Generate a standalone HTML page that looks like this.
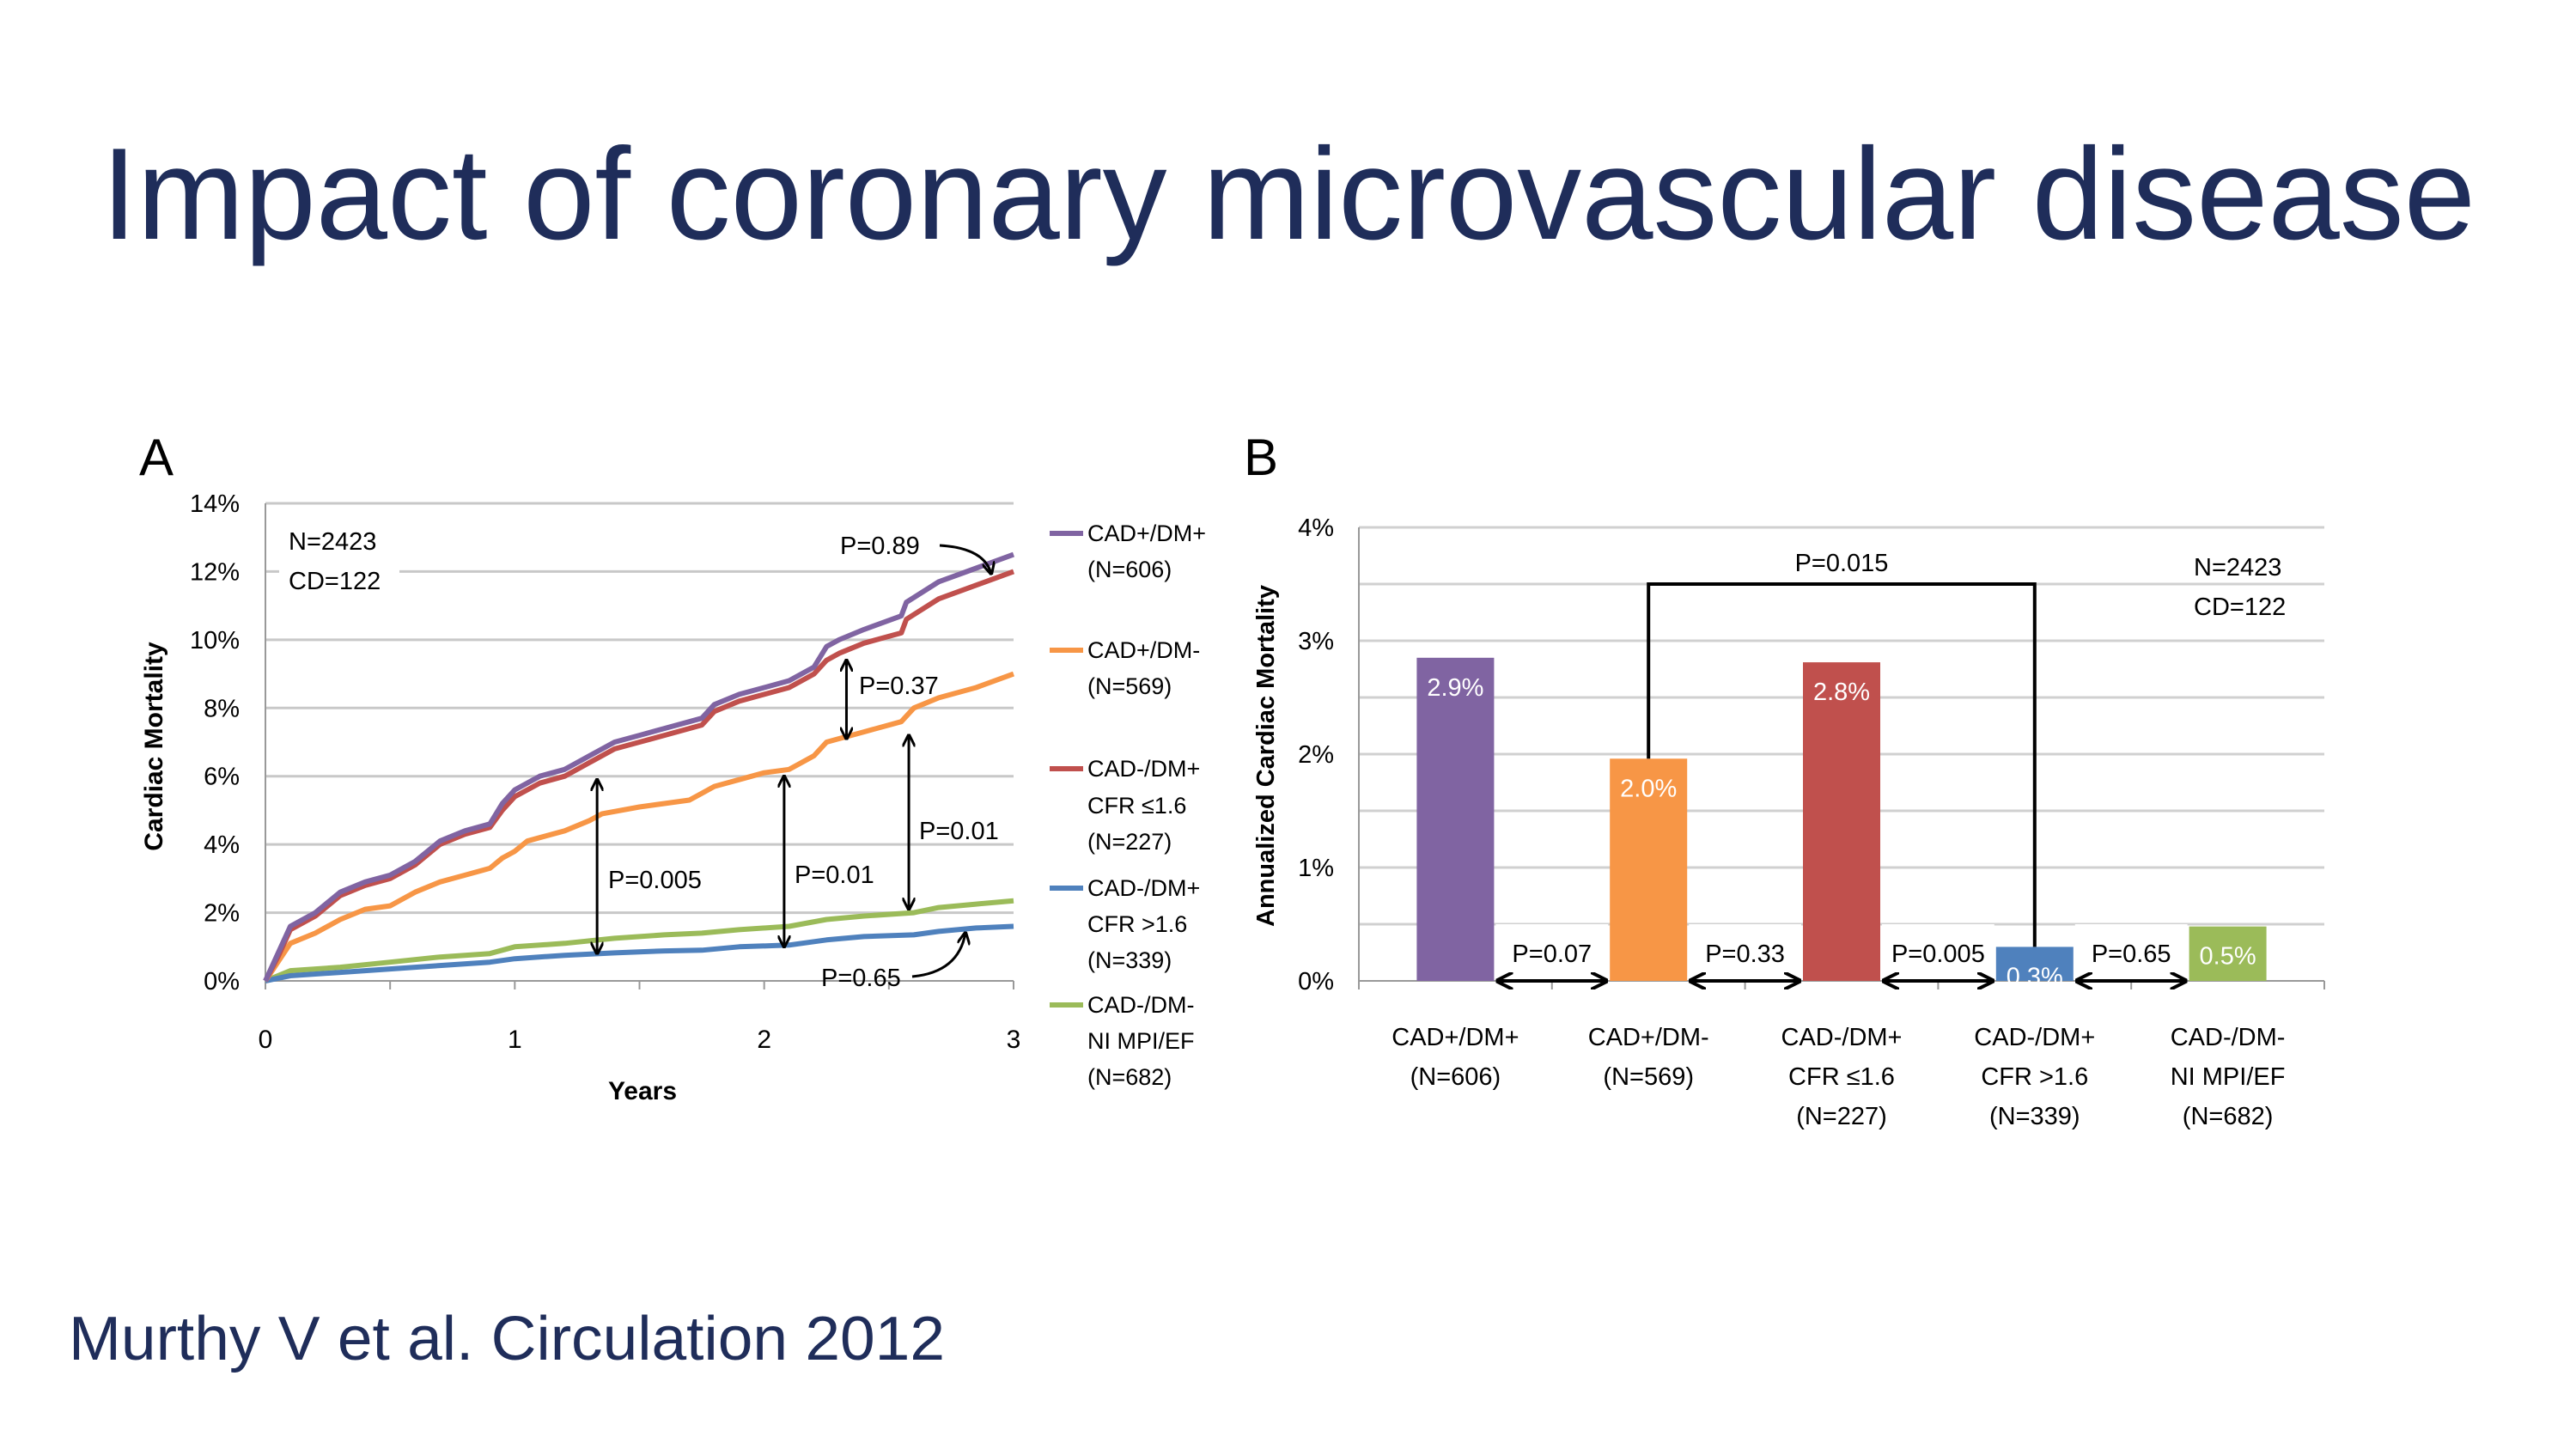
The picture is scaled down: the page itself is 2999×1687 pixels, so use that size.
<!DOCTYPE html>
<html><head><meta charset="utf-8"><style>
html,body{margin:0;padding:0;background:#fff;}
svg{display:block;font-family:"Liberation Sans",sans-serif;}
</style></head><body>
<svg id="s" width="2999" height="1687" viewBox="0 0 2999 1687" xmlns="http://www.w3.org/2000/svg">
<defs>
<marker id="ah" viewBox="0 0 10 10" refX="9" refY="5" markerWidth="5" markerHeight="5" orient="auto-start-reverse"><path d="M0,0 L10,5 L0,10" fill="none" stroke="#000" stroke-width="2"/></marker>
</defs>
<text x="118" y="278" font-size="152" fill="#1f2d5a" textLength="2764" lengthAdjust="spacingAndGlyphs">Impact of coronary microvascular disease</text>
<text x="80" y="1583" font-size="72" fill="#1f2d5a" textLength="1020" lengthAdjust="spacingAndGlyphs">Murthy V et al. Circulation 2012</text>
<text x="162" y="553" font-size="60" fill="#000">A</text>
<text x="1448" y="553" font-size="60" fill="#000">B</text>
<g id="ga"></g>
<g id="gb"></g>
</svg>
<script>
const NS="http://www.w3.org/2000/svg";
function mk(p,tag,at,txt){const e=document.createElementNS(NS,tag);for(const k in at)e.setAttribute(k,at[k]);if(txt!=null)e.textContent=txt;p.appendChild(e);return e;}

// ---- Panel A data ----
const yearsTicks=[0,1,2,3];
const pctTicksA=[0,2,4,6,8,10,12,14];
const seriesNames=["CAD+/DM+","CAD+/DM-","CAD-/DM+ CFR ≤1.6","CAD-/DM+ CFR >1.6","CAD-/DM- NI MPI/EF"];
const tPurple=[0,0.05,0.1,0.2,0.3,0.4,0.5,0.6,0.7,0.8,0.9,0.95,1.0,1.1,1.2,1.3,1.4,1.5,1.6,1.7,1.75,1.8,1.9,2.0,2.1,2.2,2.25,2.3,2.4,2.55,2.57,2.7,2.85,3];
const vPurple=[0,0.8,1.6,2.0,2.6,2.9,3.1,3.5,4.1,4.4,4.6,5.2,5.6,6.0,6.2,6.6,7.0,7.2,7.4,7.6,7.7,8.1,8.4,8.6,8.8,9.2,9.8,10.0,10.3,10.7,11.1,11.7,12.1,12.5];
const tRed=tPurple;
const vRed=[0,0.7,1.5,1.9,2.5,2.8,3.0,3.4,4.0,4.3,4.5,5.0,5.4,5.8,6.0,6.4,6.8,7.0,7.2,7.4,7.5,7.9,8.2,8.4,8.6,9.0,9.4,9.6,9.9,10.2,10.6,11.2,11.6,12.0];
const tOrange=[0,0.1,0.2,0.3,0.4,0.5,0.6,0.7,0.8,0.9,0.95,1.0,1.05,1.1,1.2,1.3,1.35,1.5,1.6,1.7,1.75,1.8,1.9,2.0,2.1,2.2,2.25,2.3,2.4,2.55,2.6,2.7,2.85,3];
const vOrange=[0,1.1,1.4,1.8,2.1,2.2,2.6,2.9,3.1,3.3,3.6,3.8,4.1,4.2,4.4,4.7,4.9,5.1,5.2,5.3,5.5,5.7,5.9,6.1,6.2,6.6,7.0,7.1,7.3,7.6,8.0,8.3,8.6,9.0];
const tGreen=[0,0.1,0.3,0.5,0.7,0.9,1.0,1.2,1.4,1.6,1.75,1.9,2.1,2.25,2.4,2.6,2.7,2.85,3];
const vGreen=[0,0.3,0.4,0.55,0.7,0.8,1.0,1.1,1.25,1.35,1.4,1.5,1.6,1.8,1.9,2.0,2.15,2.25,2.35];
const tBlue=tGreen;
const vBlue=[0,0.15,0.25,0.35,0.45,0.55,0.65,0.75,0.82,0.88,0.9,1.0,1.05,1.2,1.3,1.35,1.45,1.55,1.6];
const colors=["#8064a2","#f79646","#c0504d","#4f81bd","#9bbb59"];

const A=document.getElementById('ga');
const ax0=309,ax1=1180,ay0=1142,ay1=586;
const xA=t=>ax0+(ax1-ax0)*t/3;
const yA=v=>ay0-(ay0-ay1)*v/14;
pctTicksA.forEach(v=>{
  if(v>0){const g=mk(A,'line',{x1:ax0,x2:ax1,y1:yA(v),y2:yA(v),stroke:'#c8c8c8','stroke-width':3});
  }
  const t=mk(A,'text',{x:279,y:yA(v)+10,'font-size':29,'text-anchor':'end'},v+'%');
  
});
mk(A,'line',{x1:ax0,x2:ax0,y1:ay1,y2:ay0,stroke:'#999','stroke-width':2});
mk(A,'line',{x1:ax0,x2:ax1,y1:ay0,y2:ay0,stroke:'#999','stroke-width':2});
for(let i=0;i<=6;i++){mk(A,'line',{x1:xA(i/2),x2:xA(i/2),y1:ay0,y2:ay0+10,stroke:'#999','stroke-width':2});}
yearsTicks.forEach(v=>{const t=mk(A,'text',{x:xA(v),y:1220,'font-size':30,'text-anchor':'middle'},v);
  });
const xt=mk(A,'text',{x:748,y:1280,'font-size':30,'font-weight':'bold','text-anchor':'middle'},'Years');

const yt=mk(A,'text',{x:0,y:0,'font-size':30,'font-weight':'bold','text-anchor':'middle',transform:'translate(189,869) rotate(-90)'},'Cardiac Mortality');

mk(A,'rect',{x:325,y:605,width:140,height:95,fill:'#fff'});
const n1=mk(A,'text',{x:336,y:640,'font-size':29},'N=2423');
const n2=mk(A,'text',{x:336,y:686,'font-size':29},'CD=122');
const ser=[[tGreen,vGreen,4],[tBlue,vBlue,3],[tOrange,vOrange,1],[tRed,vRed,2],[tPurple,vPurple,0]];
ser.forEach(([t,v,ci])=>{
  const d=t.map((tt,i)=>(i?'L':'M')+xA(tt).toFixed(1)+','+yA(v[i]).toFixed(1)).join(' ');
  const p=mk(A,'path',{d:d,fill:'none',stroke:colors[ci],'stroke-width':6,'stroke-linejoin':'round'});
  
  
});
const arrowsX=[1.33,2.08,2.58,2.33];
const arrowsLo=[0.8,1.0,2.1,7.1];
const arrowsHi=[5.9,6.0,7.2,9.4];
arrowsX.forEach((x,i)=>{const l=mk(A,'line',{x1:xA(x),x2:xA(x),y1:yA(arrowsLo[i]),y2:yA(arrowsHi[i]),stroke:'#000','stroke-width':3,'marker-start':'url(#ah)','marker-end':'url(#ah)'});
  });
[['P=0.005',708,1034],['P=0.01',925,1028],['P=0.01',1070,977],['P=0.37',1000,808],['P=0.89',978,645],['P=0.65',956,1148]].forEach(([s,x,y])=>{
  const t=mk(A,'text',{x:x,y:y,'font-size':29},s);});
mk(A,'path',{d:'M1094,635 Q1146,638 1154,668',fill:'none',stroke:'#000','stroke-width':3,'marker-end':'url(#ah)'});
mk(A,'path',{d:'M1062,1137 Q1116,1132 1124,1086',fill:'none',stroke:'#000','stroke-width':3,'marker-end':'url(#ah)'});
const legY=[[621,663],[757,799],[895,938,980],[1034,1076,1118],[1170,1212,1254]];
const legTxt=[["CAD+/DM+","(N=606)"],["CAD+/DM-","(N=569)"],["CAD-/DM+","CFR ≤1.6","(N=227)"],["CAD-/DM+","CFR >1.6","(N=339)"],["CAD-/DM-","NI MPI/EF","(N=682)"]];
legTxt.forEach((lines,i)=>{
  const l=mk(A,'line',{x1:1222,x2:1261,y1:legY[i][0],y2:legY[i][0],stroke:colors[i],'stroke-width':6});
  
  lines.forEach((s,j)=>{const t=mk(A,'text',{x:1266,y:legY[i][j]+9,'font-size':27},s);
    });
});

// ---- Panel B data ----
const categories=[["CAD+/DM+","(N=606)"],["CAD+/DM-","(N=569)"],["CAD-/DM+","CFR ≤1.6","(N=227)"],["CAD-/DM+","CFR >1.6","(N=339)"],["CAD-/DM-","NI MPI/EF","(N=682)"]];
const barValues=[2.85,1.96,2.81,0.3,0.48];
const barLabels=["2.9%","2.0%","2.8%","0.3%","0.5%"];
const pctTicksB=[0,1,2,3,4];
const pairP=["P=0.07","P=0.33","P=0.005","P=0.65"];
const B=document.getElementById('gb');
const bx0=1582,bx1=2706,by0=1142,by1=614;
const slot=(bx1-bx0)/5;
const xB=i=>bx0+slot*(i+0.5);
const yB=v=>by0-(by0-by1)*v/4;
for(let k=1;k<=8;k++){const g=mk(B,'line',{x1:bx0,x2:bx1,y1:yB(k/2),y2:yB(k/2),stroke:'#d0d0d0','stroke-width':3});
  }
pctTicksB.forEach(v=>{const t=mk(B,'text',{x:1553,y:yB(v)+10,'font-size':29,'text-anchor':'end'},v+'%');
  });
mk(B,'line',{x1:bx0,x2:bx0,y1:by1,y2:by0,stroke:'#999','stroke-width':2});
mk(B,'line',{x1:bx0,x2:bx1,y1:by0,y2:by0,stroke:'#999','stroke-width':2});
for(let i=0;i<=5;i++)mk(B,'line',{x1:bx0+slot*i,x2:bx0+slot*i,y1:by0,y2:by0+10,stroke:'#999','stroke-width':2});
const ybt=mk(B,'text',{x:0,y:0,'font-size':29,'font-weight':'bold','text-anchor':'middle',transform:'translate(1483,880) rotate(-90)'},'Annualized Cardiac Mortality');

const bw=90;
barValues.forEach((v,i)=>{
  const r=mk(B,'rect',{x:xB(i)-bw/2,y:yB(v),width:bw,height:by0-yB(v),fill:colors[i]});
  
  const t=mk(B,'text',{x:xB(i),y:yB(v)+44,'font-size':29,fill:'#fff','text-anchor':'middle'},barLabels[i]);
  
  categories[i].forEach((s,j)=>{const c=mk(B,'text',{x:xB(i),y:1217+46*j,'font-size':29,'text-anchor':'middle'},s);
    });
});
pairP.forEach((s,i)=>{
  const xl=xB(i)+bw/2, xr=xB(i+1)-bw/2;
  mk(B,'rect',{x:xl+2,y:yB(0.5),width:xr-xl-4,height:by0-yB(0.5)-6,fill:'#fff'});
  const t=mk(B,'text',{x:(xl+xr)/2,y:1120,'font-size':29,'text-anchor':'middle'},s);
  
  const a=mk(B,'line',{x1:xl+4,x2:xr-4,y1:by0,y2:by0,stroke:'#000','stroke-width':4,'marker-start':'url(#ah)','marker-end':'url(#ah)'});
  
});
const br=mk(B,'path',{d:`M${xB(1)},${yB(barValues[1])} V${yB(3.5)} H${xB(3)} V${yB(barValues[3])}`,fill:'none',stroke:'#000','stroke-width':4});

const pb=mk(B,'text',{x:(xB(1)+xB(3))/2,y:665,'font-size':29,'text-anchor':'middle'},'P=0.015');

const nb1=mk(B,'text',{x:2554,y:670,'font-size':29},'N=2423');
const nb2=mk(B,'text',{x:2554,y:716,'font-size':29},'CD=122');
</script>
</body></html>
